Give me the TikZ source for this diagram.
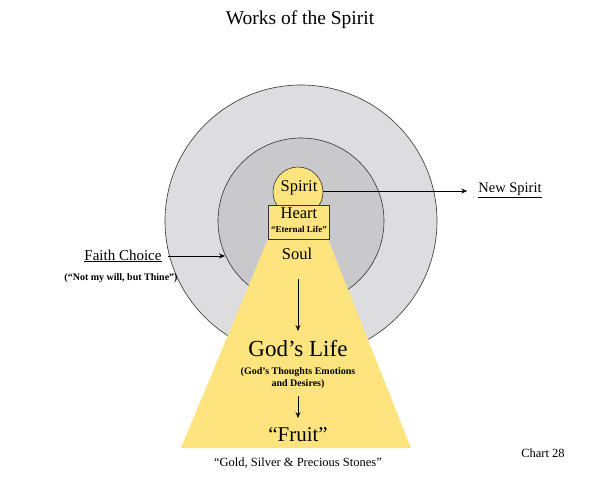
\documentclass[tikz,border=0pt]{standalone}
\usepackage{fontspec}
\setmainfont{Liberation Serif}
\usetikzlibrary{arrows.meta}
\definecolor{gold}{HTML}{FDE47E}
\definecolor{outerg}{HTML}{DDDCDE}
\definecolor{innerg}{HTML}{C9C8CA}
\tikzset{
  ring/.style={draw=black!80, line width=0.6pt},
  arr/.style={-{Stealth[length=6pt,width=5pt]}, line width=0.8pt},
  lbl/.style={inner sep=0pt, font=\fontsize{#1}{#1}\selectfont},
  blbl/.style={inner sep=0pt, font=\fontsize{#1}{#1}\selectfont\bfseries},
}
\begin{document}
\begin{tikzpicture}[x=1pt,y=-1pt]
\useasboundingbox[fill=white] (0,0) rectangle (600,480);
\node[lbl=19.5] (title) at (300,20) {Works of the Spirit};
% circles
\node[ring, fill=outerg, circle, minimum size=272pt, inner sep=0pt] (outer) at (301,221) {};
\node[ring, fill=innerg, circle, minimum size=166pt, inner sep=0pt] (inner) at (301,221) {};
% trapezoid
\fill[gold] (268,239) -- (328,239) -- (411,448) -- (181,448) -- cycle;
% spirit circle and heart box
\node[ring, fill=gold, circle, minimum size=50pt, inner sep=0pt] (spiritc) at (298,192) {};
\node[ring, fill=gold, rectangle, minimum width=61pt, minimum height=34pt, inner sep=0pt] (heartbox) at (298.5,222) {};
\node[lbl=16.5] (spirit) at (299,188) {Spirit};
\node[lbl=16.5] (heart) at (299,213) {Heart};
\node[blbl=9] (eternal) at (299,229) {“Eternal Life”};
\node[lbl=16.5] (soul) at (297,254) {Soul};
\coordinate (a1s) at (298,279);
\coordinate (a1e) at (298,331);
\draw[arr] (a1s) -- (a1e);
\node[lbl=23] (godslife) at (298,349) {God’s Life};
\node[align=center, inner sep=0pt, font=\fontsize{10}{11.5}\selectfont\bfseries] (thoughts) at (298,378) {(God’s Thoughts Emotions\\and Desires)};
\coordinate (a2s) at (298,396);
\coordinate (a2e) at (298,418);
\draw[arr] (a2s) -- (a2e);
\node[lbl=21] (fruit) at (298,435) {“Fruit”};
\node[lbl=12.5] (gold) at (298,463) {“Gold, Silver \& Precious Stones”};
\node[lbl=12.5] (chart) at (543,453) {Chart 28};
% Faith choice
\node[lbl=15] (faith) at (123,256) {\underline{Faith Choice}};
\coordinate (faithtip) at (225,256);
\draw[arr] (faith.east) ++(6,0) -- (faithtip);
\node[blbl=10] (notmy) at (121,278) {(“Not my will, but Thine”)};
% New spirit
\node[lbl=14.5] (newspirit) at (510,190) {\underline{New Spirit}};
\draw[arr] (spiritc.east) ++(0,-1) -- ([xshift=-11pt]newspirit.west |- 0,191);
\end{tikzpicture}
\end{document}
